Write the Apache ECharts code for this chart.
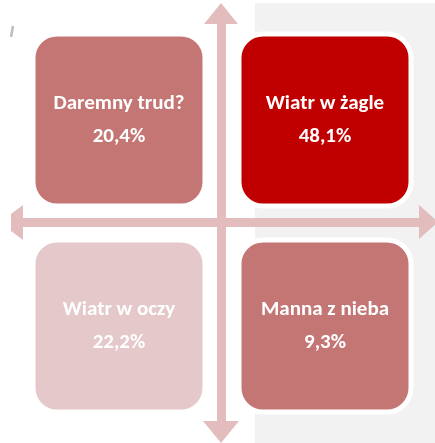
<!DOCTYPE html>
<html>
<head>
<meta charset="utf-8">
<script src="https://cdn.jsdelivr.net/npm/echarts@6/dist/echarts.min.js"></script>
<style>html,body{margin:0;padding:0;background:#fff}#c{width:435px;height:443px}</style>
</head>
<body>
<div id="c"></div>
<script>
// Data
const quadrantNames = ['Daremny trud?', 'Wiatr w żagle', 'Wiatr w oczy', 'Manna z nieba'];
const quadrantValues = [20.4, 48.1, 22.2, 9.3];
const quadrantColumns = ['lewo', 'prawo', 'lewo', 'prawo'];
const quadrantRows = ['góra', 'góra', 'dół', 'dół'];
const columnCategories = ['lewo', 'prawo'];
const rowCategories = ['dół', 'góra'];

// Styles
const quadrantColors = ['#C47674', '#C00000', '#E5C8C9', '#C47674'];
const arrowColor = '#E3BDBD';
const FONT = 'Carlito, Lato, "Open Sans", sans-serif';

const chart = echarts.init(document.getElementById('c'), null, {renderer: 'canvas'});

const seriesData = quadrantNames.map((n, i) => ({
  value: [quadrantColumns[i], quadrantRows[i], quadrantValues[i]],
  name: n,
  itemStyle: {color: quadrantColors[i]}
}));

function fmt(v) { return v.toFixed(1).replace('.', ',') + '%'; }

chart.setOption({
  animation: false,
  grid: {left: 16, top: 17, width: 412, height: 412},
  xAxis: {type: 'category', data: columnCategories, show: false},
  yAxis: {type: 'category', data: rowCategories, show: false},
  graphic: [
    {type: 'rect', z: 0, shape: {x: 255, y: 3, width: 185, height: 445}, style: {fill: '#F2F2F2'}},
    {type: 'line', z: 0, shape: {x1: 13, y1: 26, x2: 11, y2: 37}, style: {stroke: '#BDBDBD', lineWidth: 2.5}},
    // vertical arrow
    {type: 'polygon', z: 1, shape: {points: [[217, 23], [226, 23], [226, 422], [217, 422]]}, style: {fill: arrowColor}},
    {type: 'polygon', z: 1, shape: {points: [[204, 24], [221, 3], [238, 24]]}, style: {fill: arrowColor}},
    {type: 'polygon', z: 1, shape: {points: [[203, 421], [239, 421], [221, 443]]}, style: {fill: arrowColor}},
    // horizontal arrow
    {type: 'polygon', z: 1, shape: {points: [[22, 218], [420, 218], [420, 227], [22, 227]]}, style: {fill: arrowColor}},
    {type: 'polygon', z: 1, shape: {points: [[23, 205], [11, 214], [11, 231], [23, 240]]}, style: {fill: arrowColor}},
    {type: 'polygon', z: 1, shape: {points: [[419, 205], [438, 222], [419, 239]]}, style: {fill: arrowColor}}
  ],
  series: [{
    type: 'custom',
    z: 5,
    data: seriesData,
    renderItem: function (params, api) {
      const c = api.coord([api.value(0), api.value(1)]);
      const w = 172, h = 172;
      const idx = params.dataIndex;
      const color = api.visual('color');
      return {
        type: 'group',
        children: [
          {type: 'rect', shape: {x: c[0] - w / 2, y: c[1] - h / 2, width: w, height: h, r: 24},
           style: {fill: color, stroke: '#ffffff', lineWidth: 5}},
          {type: 'text', style: {x: c[0], y: c[1] - 16.5, text: quadrantNames[idx], fill: '#fff',
            font: 'bold 21px ' + FONT, textAlign: 'center', textVerticalAlign: 'middle'}},
          {type: 'text', style: {x: c[0], y: c[1] + 17, text: fmt(api.value(2)), fill: '#fff',
            font: 'bold 21px ' + FONT, textAlign: 'center', textVerticalAlign: 'middle'}}
        ]
      };
    }
  }]
});
</script>
</body>
</html>
